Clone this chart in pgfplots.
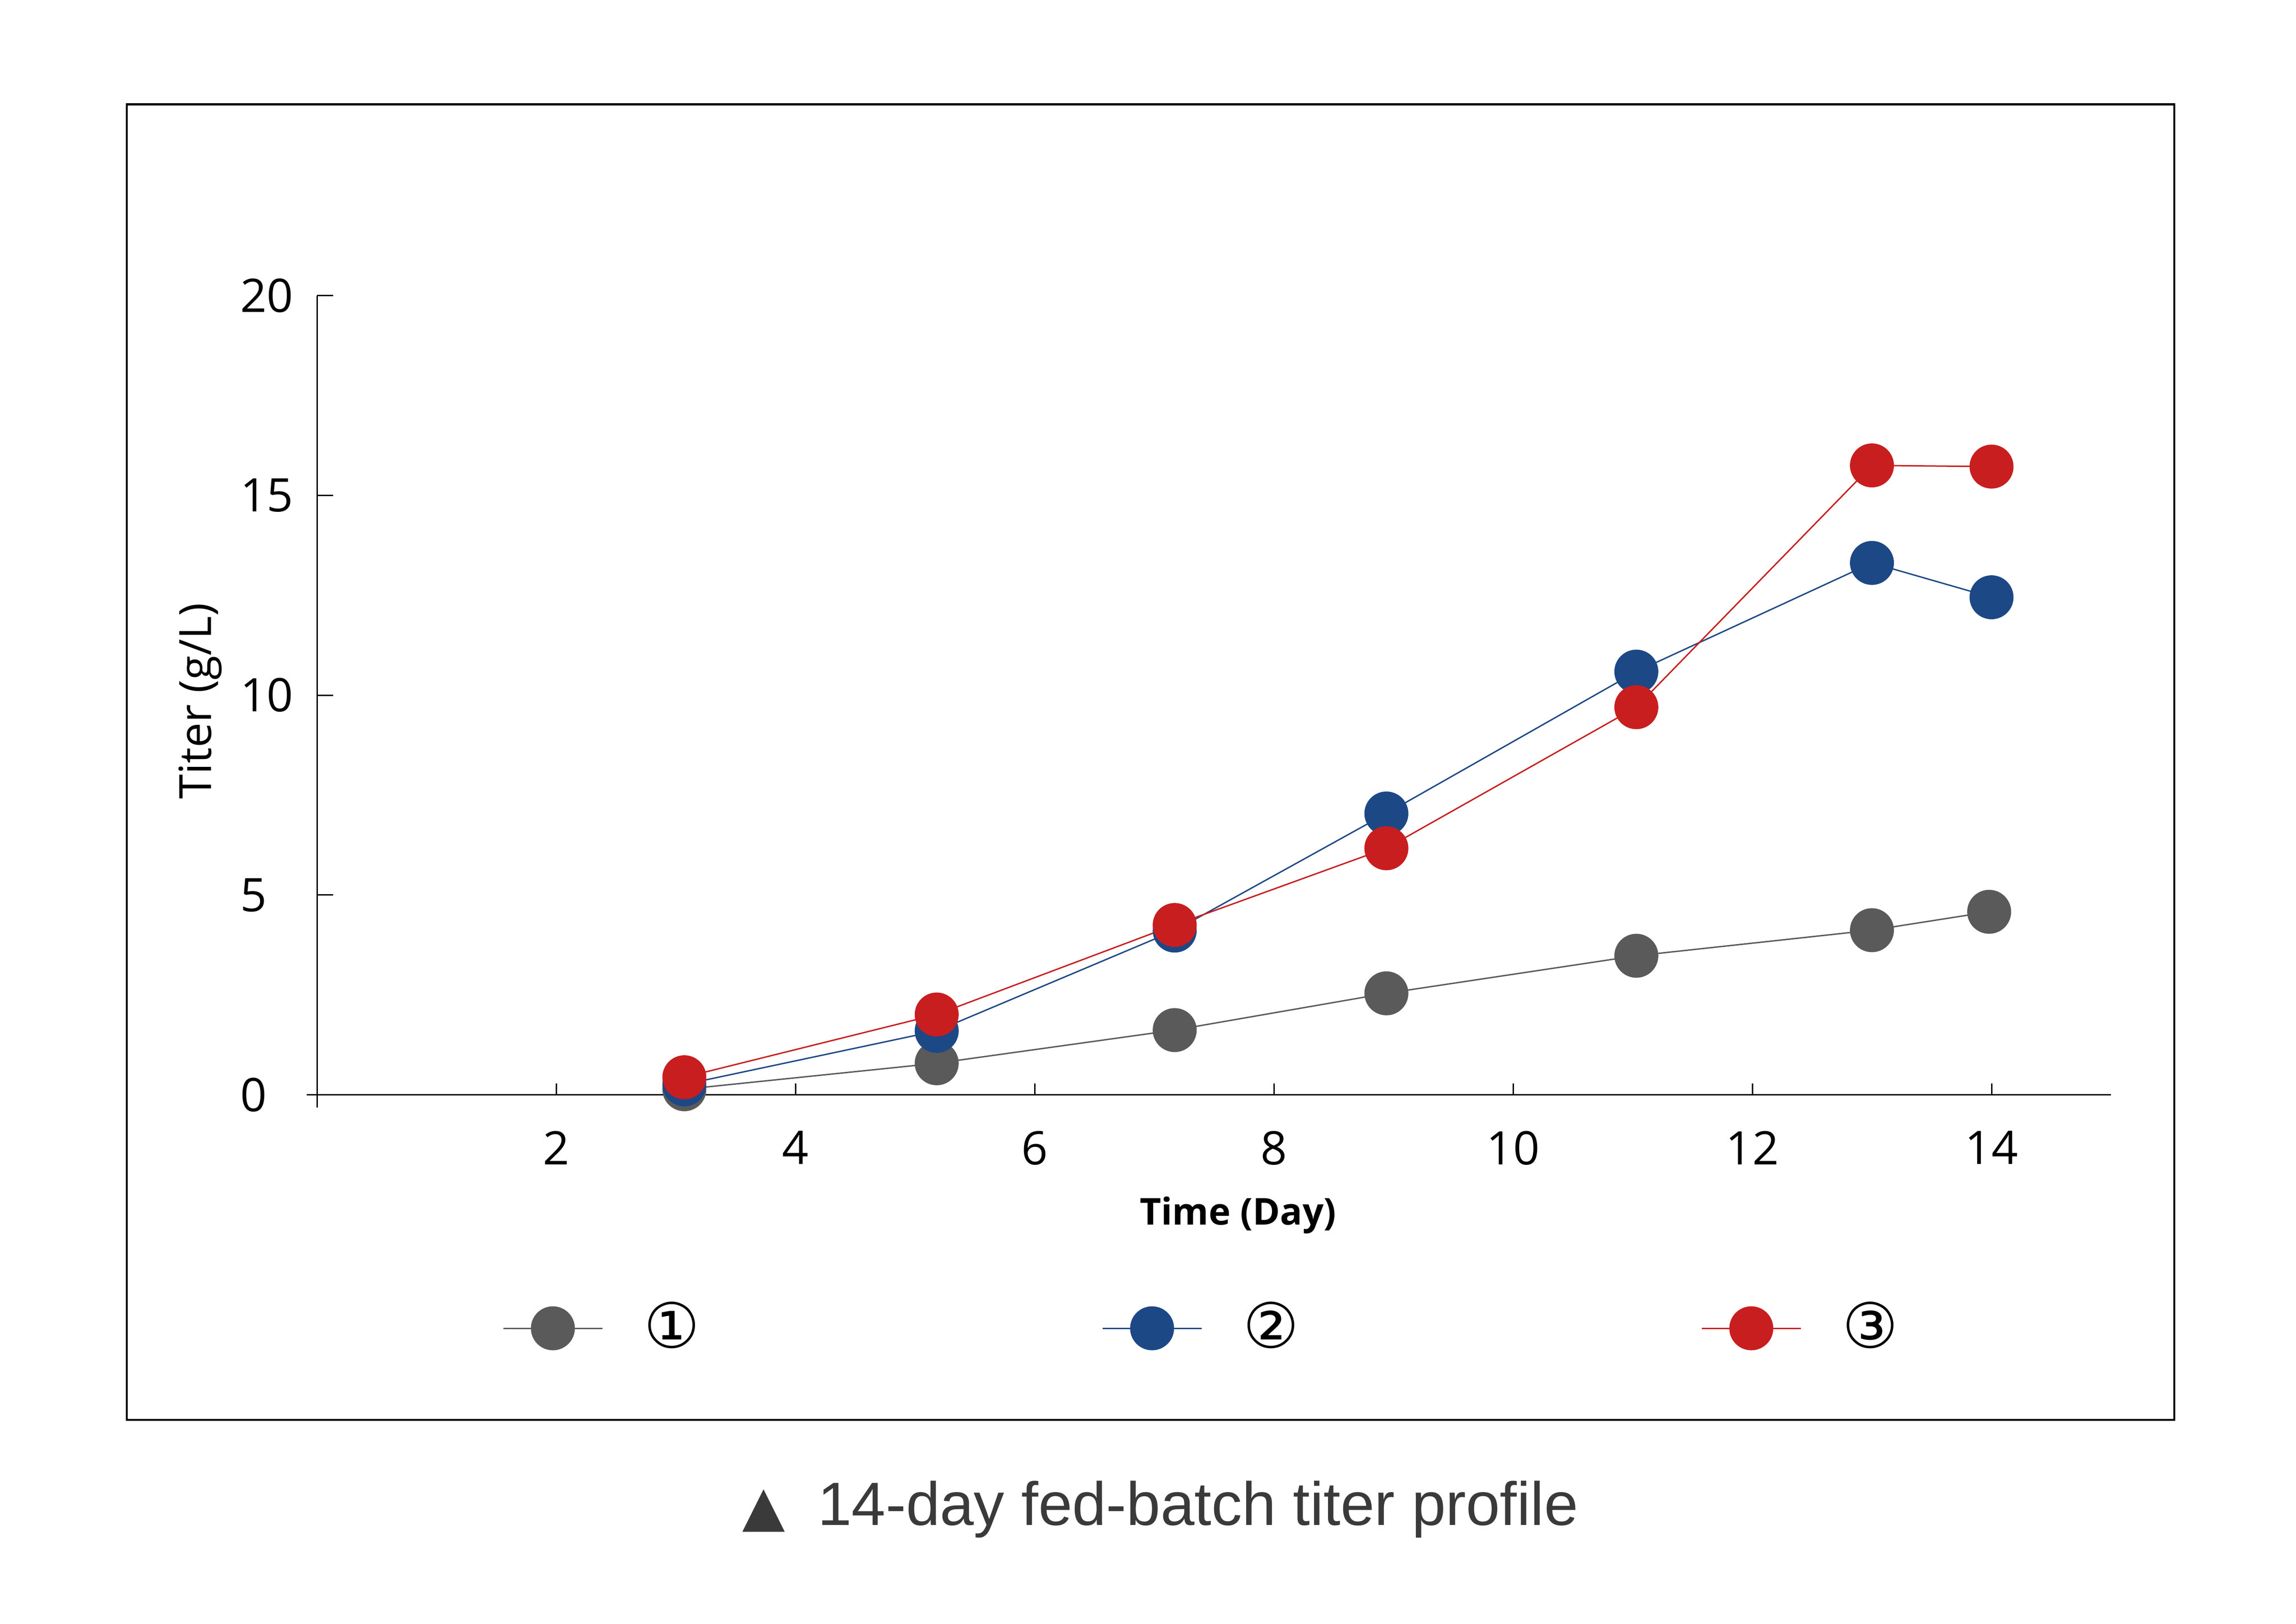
\documentclass[border=0pt]{standalone}
\usepackage{fontspec}
\setmainfont{Open Sans}
\newfontfamily\capfont{Liberation Sans}
\newfontfamily\symfont{DejaVu Sans}
\usepackage{pgfplots}
\pgfplotsset{compat=1.18}
\definecolor{sgray}{HTML}{5A5A5A}
\definecolor{sblue}{HTML}{1D4886}
\definecolor{sred}{HTML}{C81E1F}
\definecolor{capgray}{HTML}{3A3A3A}
\begin{document}
\begin{tikzpicture}
\path[use as bounding box] (0,0) rectangle (496.2pt,-350.9pt);
\draw[line width=0.46pt] (27.4pt,-22.56pt) rectangle (469.9pt,-306.8pt);
\begin{axis}[
    at={(68.55pt,-236.56pt)}, anchor=south west,
    scale only axis, width=387.7pt, height=172.7pt,
    xmin=0, xmax=15, ymin=0, ymax=20,
    clip=false,
    axis lines*=left,
    axis line style={line width=0.3pt},
    xtick={2,4,...,14}, ytick={0,5,...,20},
    tick align=inside,
    tick style={black, line width=0.3pt},
    xtick style={/pgfplots/major tick length=2.5pt},
    ytick style={/pgfplots/major tick length=3.5pt},
    /pgf/number format/assume math mode=true,
    ticklabel style={font=\fontsize{10}{12}\selectfont, inner sep=0pt},
    xticklabel style={anchor=north, yshift=-7.6pt},
    yticklabel style={anchor=west, xshift=-16.8pt},
    xlabel={Time (Day)},
    ylabel={Titer (g/L)},
    every axis x label/.style={at={(axis description cs:0.5133,-0.1624)}, anchor=base, inner sep=0pt, font=\bfseries\fontsize{8}{10}\selectfont},
    every axis y label/.style={at={(axis description cs:-0.0591,0.4925)}, anchor=base, rotate=90, inner sep=0pt, font=\fontsize{9.6}{11}\selectfont},
    legend columns=3,
    legend style={draw=none, fill=none, at={(axis description cs:0.1034,-0.2921)}, anchor=west,
      inner sep=0pt, outer sep=0pt, nodes={inner sep=0pt}, font=\fontsize{13.5}{15}\selectfont,
      /tikz/every odd column/.append style={column sep=10.5pt},
      /tikz/every even column/.append style={column sep=88.5pt}},
    legend image code/.code={\draw[mark repeat=2,mark phase=2,#1] plot coordinates {(0pt,0pt) (10.7pt,0pt) (21.4pt,0pt)};},
]
\addplot[color=sgray, line width=0.3pt, mark=*, mark size=4.6pt, mark options={solid, fill=sgray, draw=none}]
  coordinates {(3.07,0.14) (5.18,0.79) (7.17,1.62) (8.94,2.54) (11.03,3.48) (13.0,4.12) (13.98,4.58)};
\addlegendentry{\makebox[8.8pt]{\symfont ①}}
\addplot[color=sblue, line width=0.3pt, mark=*, mark size=4.6pt, mark options={solid, fill=sblue, draw=none}]
  coordinates {(3.07,0.26) (5.18,1.60) (7.17,4.11) (8.94,7.04) (11.03,10.59) (13.0,13.31) (14.0,12.45)};
\addlegendentry{\makebox[8.8pt]{\symfont ②}}
\addplot[color=sred, line width=0.3pt, mark=*, mark size=4.6pt, mark options={solid, fill=sred, draw=none}]
  coordinates {(3.07,0.44) (5.18,2.01) (7.17,4.25) (8.94,6.17) (11.03,9.70) (13.0,15.75) (14.0,15.72)};
\addlegendentry{\makebox[8.8pt]{\symfont ③}}
% small overshoot of both axes at the origin
\draw[line width=0.3pt] (axis cs:0,0) -- ++(0pt,-2.7pt);
\draw[line width=0.3pt] (axis cs:0,0) -- ++(-2.2pt,0pt);
\end{axis}
\node[anchor=base west, inner sep=0pt, text=capgray, font=\capfont\fontsize{13.2}{15}\selectfont] at (160.2pt,-329.5pt)
  {{\symfont\fontsize{12}{14}\selectfont ▲}\hspace{7.1pt}14-day fed-batch titer profile};
\end{tikzpicture}
\end{document}
